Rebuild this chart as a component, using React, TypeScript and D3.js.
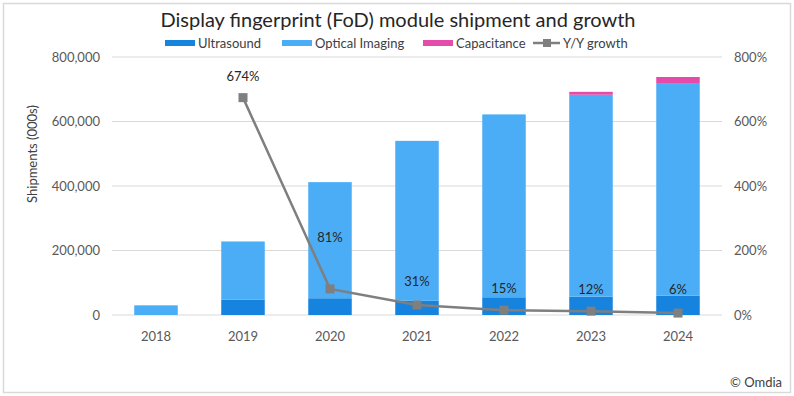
import React from "react";
import * as d3 from "d3";

// shipments (000s) per year
const years = ["2018", "2019", "2020", "2021", "2022", "2023", "2024"];
const ultrasound = [0, 48000, 52000, 44000, 55000, 57000, 60000];
const optical = [30000, 180000, 360000, 496000, 567000, 626000, 657000];
const capacitance = [0, 0, 0, 0, 0, 9000, 21000];
const growthYears = ["2019", "2020", "2021", "2022", "2023", "2024"];
const growth = [674, 81, 31, 15, 12, 6];
const leftTicks = [0, 200000, 400000, 600000, 800000];
const rightTicks = [0, 200, 400, 600, 800];

const W = 794;
const H = 396;
const FONT = "Lato, 'Open Sans', sans-serif";

const colors = {
    ultrasound: "#1683df",
    optical: "#4badf6",
    capacitance: "#e54ca9",
    growth: "#7f7f7f",
};

// label lift above each growth point (px)
const labelLift = [17, 47, 19, 17, 17, 19];

const App = () => {
    const x = d3.scaleBand().domain(years).range([112.5, 721.5]).paddingInner(0.5).paddingOuter(0.25);
    const yL = d3.scaleLinear().domain([0, 800000]).range([315, 57]);
    const yR = d3.scaleLinear().domain([0, 800]).range([315, 57]);

    const rows = years.map((yr, i) => ({ yr, u: ultrasound[i], o: optical[i], c: capacitance[i] }));
    const stack = d3.stack<any>().keys(["u", "o", "c"])(rows);
    const fills = [colors.ultrasound, colors.optical, colors.capacitance];

    const cx = (yr: string) => (x(yr) as number) + x.bandwidth() / 2;
    const line = d3
        .line<number>()
        .x((_, i) => cx(growthYears[i]))
        .y((d) => yR(d));

    const fmt = d3.format(",");

    return (
        <svg width={W} height={H} style={{ position: "absolute", left: 0, top: 0 }}>
            <rect x={0} y={0} width={W} height={H} fill="#fff" />
            <rect x={3.5} y={3.5} width={787} height={389} fill="none" stroke="#d9d9d9" strokeWidth={1.5} />

            <text x={398} y={27} textAnchor="middle" fontFamily={FONT} fontSize={20} fill="#262626">
                Display fingerprint (FoD) module shipment and growth
            </text>

            {/* legend */}
            <g fontFamily={FONT} fontSize={13} fill="#404040">
                <rect x={165} y={40} width={30} height={6} fill={colors.ultrasound} />
                <text x={198} y={47.5}>Ultrasound</text>
                <rect x={282} y={40} width={30} height={6} fill={colors.optical} />
                <text x={315} y={47.5}>Optical Imaging</text>
                <rect x={423} y={40} width={30} height={6} fill={colors.capacitance} />
                <text x={456} y={47.5}>Capacitance</text>
                <line x1={533} x2={560} y1={43} y2={43} stroke={colors.growth} strokeWidth={2.5} />
                <rect x={543} y={39} width={8} height={8} fill={colors.growth} />
                <text x={563} y={47.5}>Y/Y growth</text>
            </g>

            {/* gridlines */}
            {leftTicks.map((t) => (
                <line key={t} x1={112} x2={722} y1={yL(t)} y2={yL(t)} stroke="#d9d9d9" strokeWidth={1} />
            ))}

            {/* left axis */}
            <g fontFamily={FONT} fontSize={13} fill="#595959">
                {leftTicks.map((t) => (
                    <text key={t} x={100} y={yL(t) + 4.5} textAnchor="end">
                        {fmt(t)}
                    </text>
                ))}
                {rightTicks.map((t) => (
                    <text key={t} x={734} y={yR(t) + 4.5}>
                        {t}%
                    </text>
                ))}
                {years.map((yr) => (
                    <text key={yr} x={cx(yr)} y={341} textAnchor="middle">
                        {yr}
                    </text>
                ))}
            </g>
            <text
                transform="translate(37,154) rotate(-90)"
                textAnchor="middle"
                fontFamily={FONT}
                fontSize={13}
                fill="#404040"
            >
                Shipments (000s)
            </text>

            {/* stacked bars */}
            {stack.map((layer, k) => (
                <g key={k} fill={fills[k]}>
                    {layer.map((d, i) =>
                        d[1] - d[0] > 0 ? (
                            <rect
                                key={i}
                                x={x(years[i])}
                                width={x.bandwidth()}
                                y={yL(d[1])}
                                height={yL(d[0]) - yL(d[1])}
                            />
                        ) : null
                    )}
                </g>
            ))}

            {/* growth line */}
            <path d={line(growth) as string} fill="none" stroke={colors.growth} strokeWidth={2.5} />
            {growth.map((g, i) => (
                <rect key={i} x={cx(growthYears[i]) - 4.5} y={yR(g) - 4.5} width={9} height={9} fill={colors.growth} />
            ))}
            {growth.map((g, i) => (
                <text
                    key={i}
                    x={cx(growthYears[i])}
                    y={yR(g) - labelLift[i]}
                    textAnchor="middle"
                    fontFamily={FONT}
                    fontSize={13}
                    fill="#262626"
                >
                    {g}%
                </text>
            ))}

            <text x={782} y={387} textAnchor="end" fontFamily={FONT} fontSize={13} fill="#404040">
                © Omdia
            </text>
        </svg>
    );
};

export default App;
